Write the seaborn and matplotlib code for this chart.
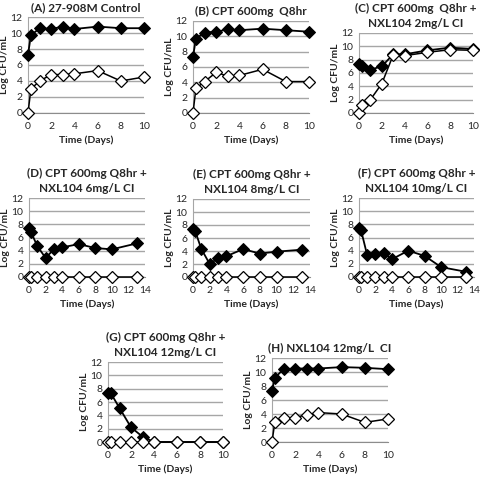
import pandas as pd
import matplotlib
matplotlib.use('Agg')
import matplotlib.pyplot as plt
import seaborn as sns

# time points (days)
t9 = [0, 0.25, 1, 2, 3, 4, 6, 8, 10]
t10 = [0, 0.25, 1, 2, 3, 4, 6, 8, 10, 13]

titles = ['(A) 27-908M Control',
          '(B) CPT 600mg  Q8hr',
          '(C) CPT 600mg  Q8hr +\nNXL104 2mg/L CI',
          '(D) CPT 600mg Q8hr +\nNXL104 6mg/L CI',
          '(E) CPT 600mg Q8hr +\nNXL104 8mg/L CI',
          '(F) CPT 600mg Q8hr +\nNXL104 10mg/L CI',
          '(G) CPT 600mg Q8hr +\nNXL104 12mg/L CI',
          '(H) NXL104 12mg/L  CI']

# filled diamonds (total count) / open diamonds (resistant subpopulation)
a_total = [7.3, 9.7, 10.6, 10.5, 10.8, 10.5, 10.8, 10.6, 10.6]
a_resist = [0, 3.0, 4.0, 4.8, 4.8, 4.9, 5.3, 4.0, 4.5]
b_total = [7.3, 9.7, 10.5, 10.6, 10.9, 10.8, 11.0, 10.8, 10.6]
b_resist = [0, 3.2, 4.1, 5.3, 4.8, 4.9, 5.7, 4.1, 4.1]
c_total = [7.4, 7.0, 6.5, 7.0, 8.8, 8.8, 9.4, 9.8, 9.6]
c_resist = [0, 1.2, 2.0, 4.4, 8.7, 8.6, 9.1, 9.5, 9.4]
d_total = [7.4, 6.8, 4.7, 2.9, 4.2, 4.5, 5.0, 4.4, 4.2, 5.1]
d_resist = [0, 0, 0, 0, 0, 0, 0, 0, 0, 0]
e_total = [7.4, 7.1, 4.3, 2.0, 2.9, 3.2, 4.3, 3.6, 3.9, 4.2]
e_resist = [0, 0, 0, 0, 0, 0, 0, 0, 0, 0]
f_total = [7.4, 7.1, 3.3, 3.5, 3.6, 2.7, 4.0, 3.2, 1.5, 0.8]
f_resist = [0, 0, 0, 0, 0, 0, 0, 0, 0, 0]
g_total = [7.4, 7.3, 5.1, 2.2, 0.8, 0, 0, 0, 0]
g_resist = [0, 0, 0, 0, 0, 0, 0, 0, 0]
h_total = [7.3, 9.2, 10.4, 10.5, 10.5, 10.5, 10.7, 10.6, 10.4]
h_resist = [0, 2.9, 3.4, 3.5, 3.9, 4.2, 4.0, 2.8, 3.3]

panels = [
    (t9, a_total, a_resist, 10),
    (t9, b_total, b_resist, 10),
    (t9, c_total, c_resist, 10),
    (t10, d_total, d_resist, 14),
    (t10, e_total, e_resist, 14),
    (t10, f_total, f_resist, 14),
    (t9, g_total, g_resist, 10),
    (t9, h_total, h_resist, 10),
]

# axes boxes in pixels: left, top, right, bottom
boxes = [(28, 17, 144, 113), (193, 21, 309, 113), (359, 33, 473, 113),
         (29, 198, 145, 277), (193, 199, 310, 277), (359, 198, 474, 277),
         (108, 362, 223, 442), (272, 358, 388, 442)]

sns.set_style('white')
plt.rcParams['font.family'] = ['Lato', 'DejaVu Sans']

W, H = 480, 478
fig = plt.figure(figsize=(W / 100, H / 100), dpi=100)

for (x, tot, res, xmax), title, (l, t, r, b) in zip(panels, titles, boxes):
    ax = fig.add_axes([l / W, 1 - b / H, (r - l) / W, (b - t) / H])
    df = pd.DataFrame({'time': x, 'total': tot, 'resist': res})
    sns.lineplot(data=df, x='time', y='total', ax=ax, color='black', lw=1.3,
                 marker='D', markersize=6.5, markerfacecolor='black',
                 markeredgecolor='black', zorder=3)
    sns.lineplot(data=df, x='time', y='resist', ax=ax, color='black', lw=1.1,
                 marker='D', markersize=6.5, markerfacecolor='white',
                 markeredgecolor='black', markeredgewidth=0.9, zorder=4)
    ax.set_xlim(0, xmax)
    ax.set_ylim(0, 12)
    ax.set_xticks(range(0, xmax + 1, 2))
    ax.set_yticks(range(0, 13, 2))
    ax.grid(axis='y', color='#a6a6a6', lw=1)
    ax.set_axisbelow(True)
    for s in ['top', 'right']:
        ax.spines[s].set_visible(False)
    ax.spines['left'].set_color('#a6a6a6')
    ax.spines['bottom'].set_color('#8c8c8c')
    ax.tick_params(axis='x', labelsize=7.5, length=3, color='#8c8c8c',
                   direction='inout', pad=5)
    ax.tick_params(axis='y', labelsize=7.5, length=2, color='#a6a6a6',
                   direction='out', pad=2)
    ax.set_xlabel('Time (Days)', fontsize=7.5, fontweight='bold', labelpad=3)
    ax.set_ylabel('Log CFU/mL', fontsize=7.5, fontweight='bold', labelpad=1)
    ax.set_title(title, fontsize=8.5, fontweight='bold', pad=4, linespacing=1.45)
    for m in ax.lines:
        m.set_clip_on(False)

fig.savefig('out.png', dpi=100)
